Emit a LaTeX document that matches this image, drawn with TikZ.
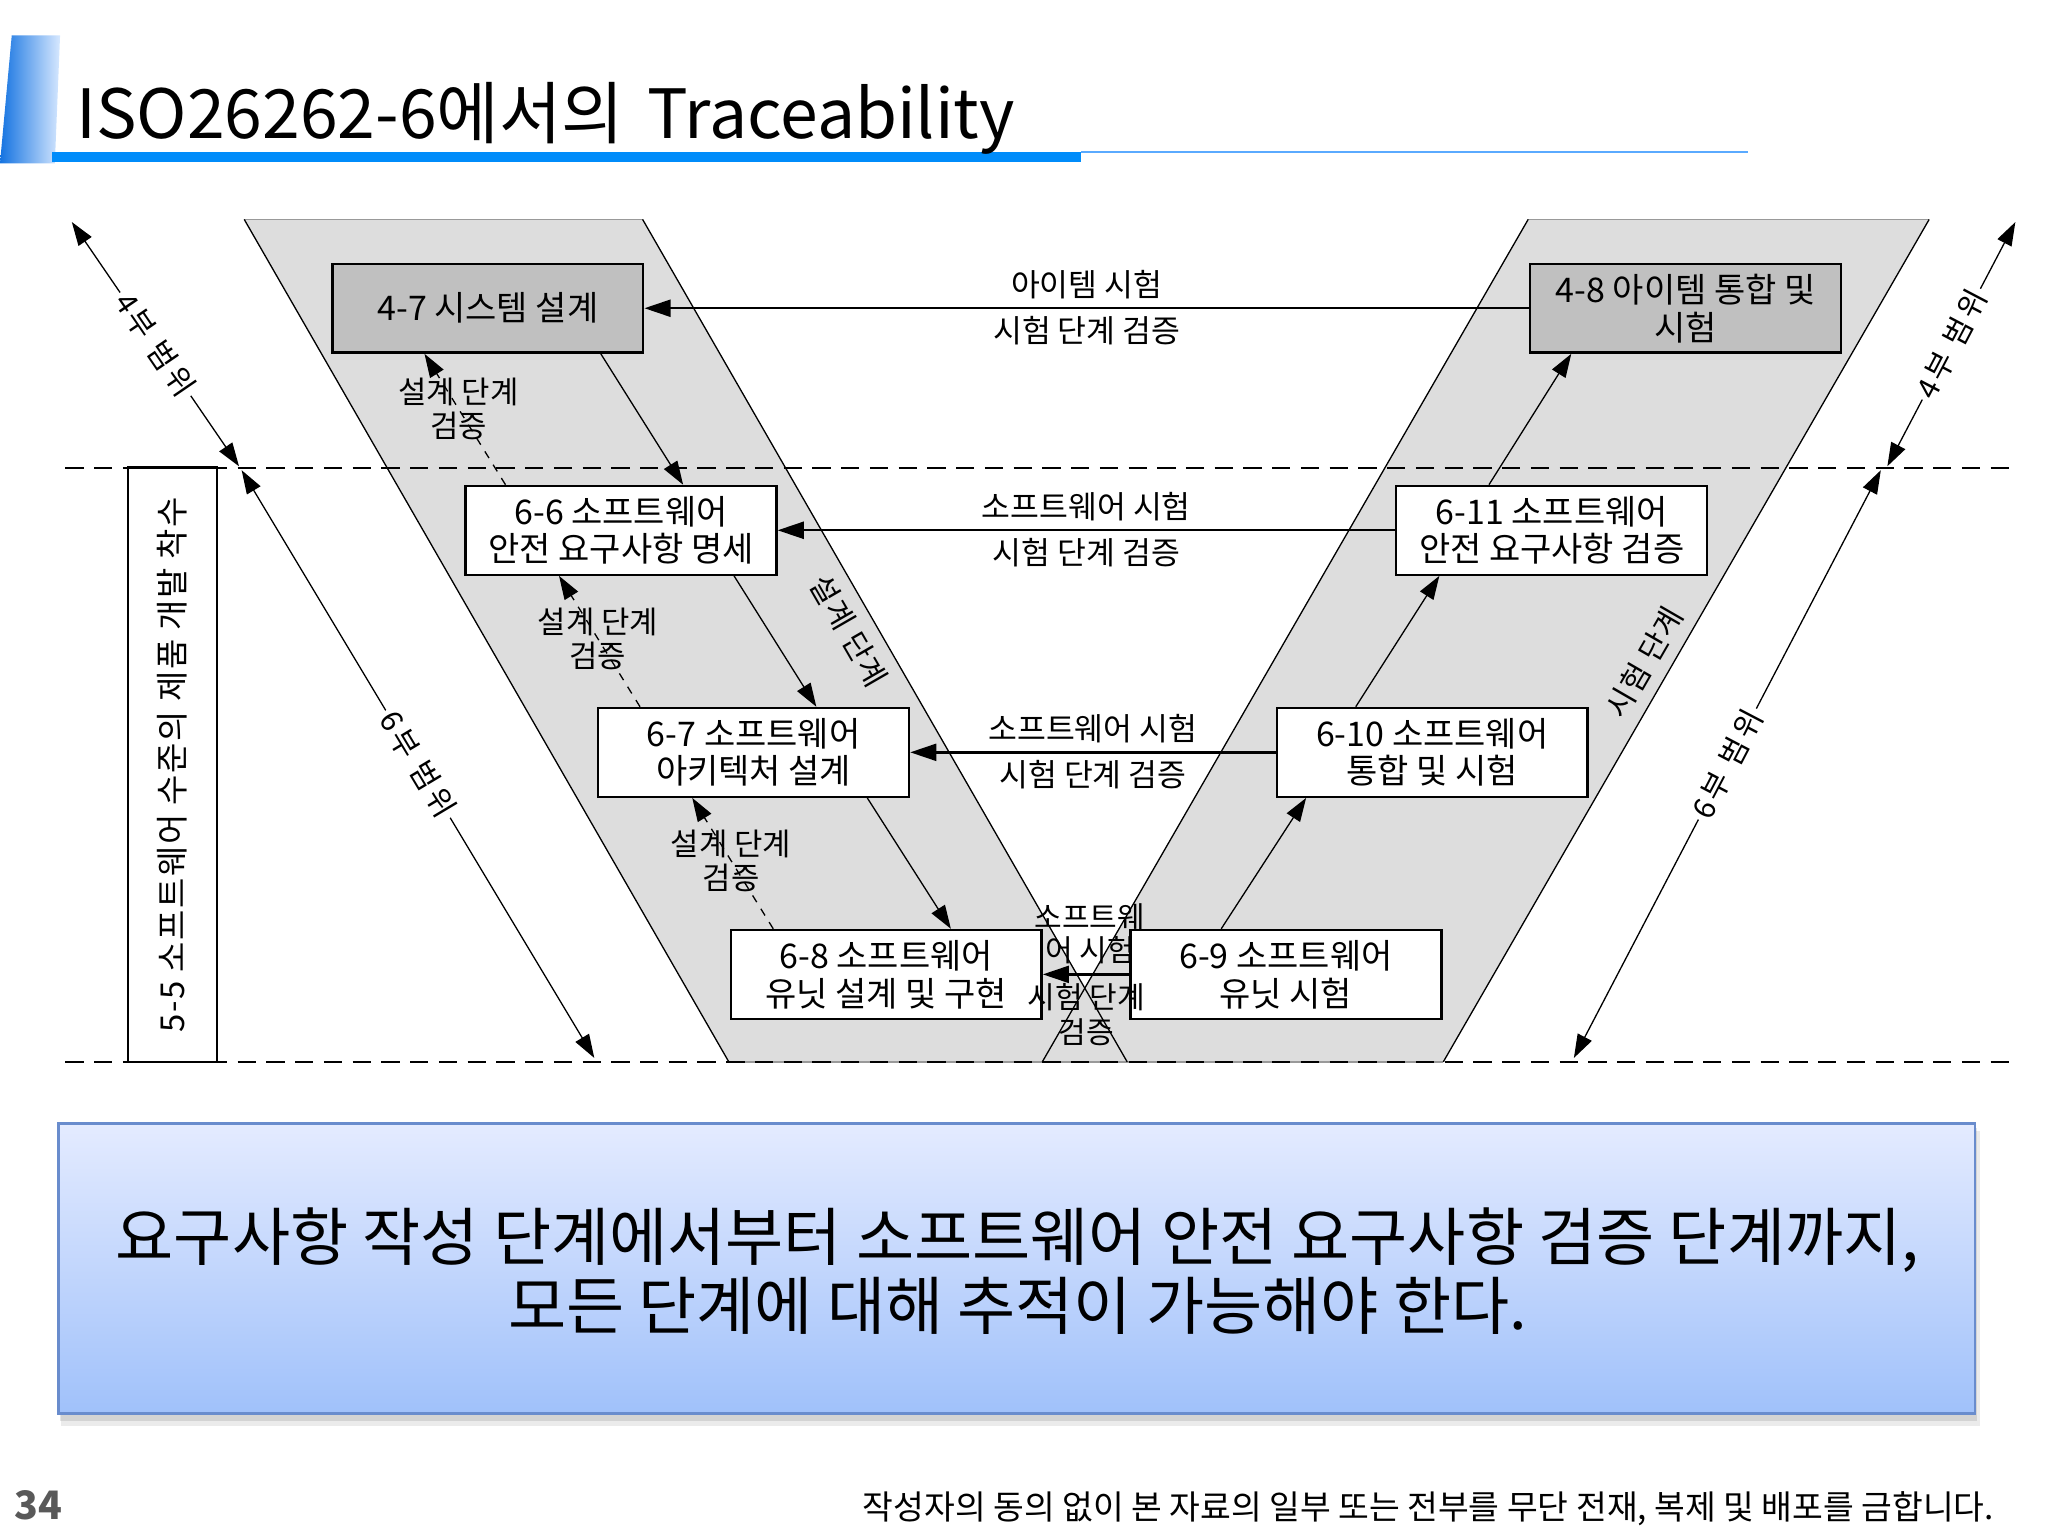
\documentclass[tikz,border=0pt]{standalone}
\usepackage{fontspec}
\setmainfont{Noto Sans CJK KR}
\newfontfamily\spacedfont[LetterSpace=12]{Noto Sans CJK KR}
\newfontfamily\midspacedfont[LetterSpace=5]{Noto Sans CJK KR}
\usetikzlibrary{arrows.meta,calc}
\definecolor{bandgray}{RGB}{221,221,221}
\definecolor{boxgray}{RGB}{192,192,192}
\definecolor{titleblue}{RGB}{0,140,250}
\definecolor{lineblue}{RGB}{90,170,255}
\definecolor{markblue}{RGB}{20,115,225}
\definecolor{marklight}{RGB}{215,232,255}
\definecolor{boxtop}{RGB}{228,235,255}
\definecolor{boxbot}{RGB}{160,193,250}
\definecolor{boxedge}{RGB}{105,140,205}
\definecolor{footgray}{RGB}{89,89,89}
\begin{document}
\begin{tikzpicture}[x=0.5pt,y=-0.5pt,
  stepbox/.style={draw=black, line width=0.9pt, minimum width=119pt, minimum height=34pt,
    inner sep=0pt, align=center, font=\fontsize{13}{14.5}\selectfont},
  graybox/.style={stepbox, fill=boxgray},
  whitebox/.style={stepbox, fill=white},
  harrow/.style={line width=0.9pt, -{Triangle[length=10pt,width=6.5pt]}},
  darrow/.style={line width=0.5pt, -{Triangle[length=9pt,width=6pt]}},
  dasharrow/.style={darrow, dash pattern=on 3pt off 3pt},
  rangearrow/.style={line width=0.5pt, {Triangle[length=9pt,width=6pt]}-{Triangle[length=9pt,width=6pt]}},
  lbl/.style={font=\fontsize{12}{13}\selectfont, align=center, inner sep=0pt},
  rlbl/.style={font=\spacedfont\fontsize{11.5}{13}\selectfont, inner sep=1.5pt, fill=white},
  bandedge/.style={line width=0.5pt, black},
  bandtop/.style={line width=0.6pt, black!40},
  levelline/.style={line width=0.7pt, dash pattern=on 7pt off 4pt}
]
\useasboundingbox (0,0) rectangle (1568,1176);

% ---------- title ----------
\shade[left color=markblue, right color=marklight] (9,27) -- (46,27) -- (42,125) -- (0,125) -- cycle;
\fill[titleblue] (40,116) rectangle (828,124);
\draw[lineblue, line width=0.8pt] (828,116.5) -- (1338,116.5);
\node[anchor=base west, inner sep=0pt, font=\fontsize{26}{30}\selectfont] (title) at (58,106)
  {ISO26262-6에서의\hspace{0.12em} Traceability};

% ---------- V bands ----------
\fill[bandgray] (187,168) -- (492,168) -- (863,813) -- (558,813) -- cycle;
\fill[bandgray] (1170,168) -- (1477,168) -- (1105,813) -- (798,813) -- cycle;
\draw[bandtop] (187,168) -- (492,168);
\draw[bandtop] (1170,168) -- (1477,168);
\draw[bandtop] (558,813) -- (1105,813);
\draw[bandedge] (187,168) -- (558,813);
\draw[bandedge] (492,168) -- (863,813);
\draw[bandedge] (1170,168) -- (798,813);
\draw[bandedge] (1477,168) -- (1105,813);

% ---------- level lines ----------
\draw[levelline] (50,358) -- (1545,358);
\draw[levelline] (50,813) -- (1545,813);

% ---------- boxes ----------
\node[graybox] (b47) at (373.5,236) {4-7 시스템 설계};
\node[graybox] (b48) at (1290.5,236) {4-8 아이템 통합 및\\시험};
\node[whitebox] (b66) at (475.5,406) {6-6 소프트웨어\\안전 요구사항 명세};
\node[whitebox] (b611) at (1188,406) {6-11 소프트웨어\\안전 요구사항 검증};
\node[whitebox] (b67) at (577,576) {6-7 소프트웨어\\아키텍처 설계};
\node[whitebox] (b610) at (1096.5,576) {6-10 소프트웨어\\통합 및 시험};
\node[whitebox] (b68) at (678.5,746) {6-8 소프트웨어\\유닛 설계 및 구현};
\node[whitebox] (b69) at (984.5,746) {6-9 소프트웨어\\유닛 시험};

\node[draw=black, line width=0.9pt, fill=white, rotate=90, minimum width=227.5pt,
  minimum height=34pt, inner sep=0pt, font=\midspacedfont\fontsize{12.6}{14}\selectfont] (b55) at (132,585.5)
  {5-5 소프트웨어 수준의 제품 개발 착수};

% ---------- horizontal test arrows ----------
\draw[harrow] (b48.west) -- (b47.east)
  node[lbl, midway, yshift=9pt] {아이템 시험}
  node[lbl, midway, yshift=-8.5pt] {시험 단계 검증};
\draw[harrow] (b611.west) -- (b66.east)
  node[lbl, midway, yshift=9pt] {소프트웨어 시험}
  node[lbl, midway, yshift=-8.5pt] {시험 단계 검증};
\draw[harrow] (b610.west) -- (b67.east)
  node[lbl, midway, yshift=9pt] {소프트웨어 시험}
  node[lbl, midway, yshift=-8.5pt] {시험 단계 검증};
\draw[harrow] (b69.west) -- (b68.east)
  node[lbl, midway, yshift=15.5pt, xshift=1.5pt, font=\fontsize{11.5}{12.5}\selectfont] {소프트웨\\어 시험}
  node[lbl, midway, yshift=-15.5pt, font=\fontsize{11.5}{13.5}\selectfont] {시험 단계\\검증};

% ---------- design flow (down) ----------
\draw[darrow] ([xshift=43.25pt]b47.south) -- ([xshift=23.75pt]b66.north);
\draw[darrow] ([xshift=43.25pt]b66.south) -- ([xshift=24pt]b67.north);
\draw[darrow] ([xshift=43.5pt]b67.south) -- ([xshift=24.75pt]b68.north);

% ---------- design verification (dashed up) ----------
\draw[dasharrow] ([xshift=-44.25pt]b66.north) -- ([xshift=-24.25pt]b47.south)
  node[lbl, pos=0.58, font=\fontsize{11.8}{13}\selectfont] {설계 단계\\검증};
\draw[dasharrow] ([xshift=-43.5pt]b67.north) -- ([xshift=-23.75pt]b66.south)
  node[lbl, pos=0.52, font=\fontsize{11.8}{13}\selectfont] {설계 단계\\검증};
\draw[dasharrow] ([xshift=-43.25pt]b68.north) -- ([xshift=-23.5pt]b67.south)
  node[lbl, pos=0.52, font=\fontsize{11.8}{13}\selectfont] {설계 단계\\검증};

% ---------- test flow (up) ----------
\draw[darrow] ([xshift=-24.75pt]b69.north) -- ([xshift=-48.25pt]b610.south);
\draw[darrow] ([xshift=-29.25pt]b610.north) -- ([xshift=-43pt]b611.south);
\draw[darrow] ([xshift=-24pt]b611.north) -- ([xshift=-43.75pt]b48.south);

% ---------- band labels ----------
\node[rotate=-60, inner sep=0pt, font=\midspacedfont\fontsize{11.5}{13}\selectfont] (lbldesign) at (650,483) {설계 단계};
\node[rotate=60, inner sep=0pt, font=\midspacedfont\fontsize{11.5}{13}\selectfont] (lbltest) at (1259,507) {시험 단계};

% ---------- range arrows ----------
\coordinate (l4a) at (55,170);
\coordinate (l4b) at (183,357);
\coordinate (l6a) at (185,360);
\coordinate (l6b) at (455,810);
\coordinate (r4a) at (1445,357);
\coordinate (r4b) at (1543,170);
\coordinate (r6a) at (1205,810);
\coordinate (r6b) at (1440,360);
\draw[rangearrow] (l4a) -- (l4b) node[rlbl, midway, sloped] {4부 범위};
\draw[rangearrow] (l6a) -- (l6b) node[rlbl, midway, sloped] {6부 범위};
\draw[rangearrow] (r4a) -- (r4b) node[rlbl, midway, sloped] {4부 범위};
\draw[rangearrow] (r6a) -- (r6b) node[rlbl, midway, sloped] {6부 범위};

% ---------- summary box ----------
\fill[black, opacity=0.08] (47,866) rectangle (1516,1092);
\fill[black, opacity=0.10] (46,864) rectangle (1514,1088);
\shadedraw[top color=boxtop, bottom color=boxbot, draw=boxedge, line width=1pt]
  (45,860) rectangle (1512,1082);
\node[align=center, inner sep=0pt, font=\fontsize{24.2}{26.5}\selectfont] (summary) at (779,973)
  {요구사항 작성 단계에서부터 소프트웨어 안전 요구사항 검증 단계까지,\\모든 단계에 대해 추적이 가능해야 한다.};

% ---------- footer ----------
\node[anchor=base west, inner sep=0pt, text=footgray, font=\bfseries\fontsize{15}{18}\selectfont] (pageno) at (11,1163) {34};
\node[anchor=base east, inner sep=0pt, font=\fontsize{12.8}{14}\selectfont] (footer) at (1527,1163)
  {작성자의 동의 없이 본 자료의 일부 또는 전부를 무단 전재, 복제 및 배포를 금합니다.};
\end{tikzpicture}
\end{document}
